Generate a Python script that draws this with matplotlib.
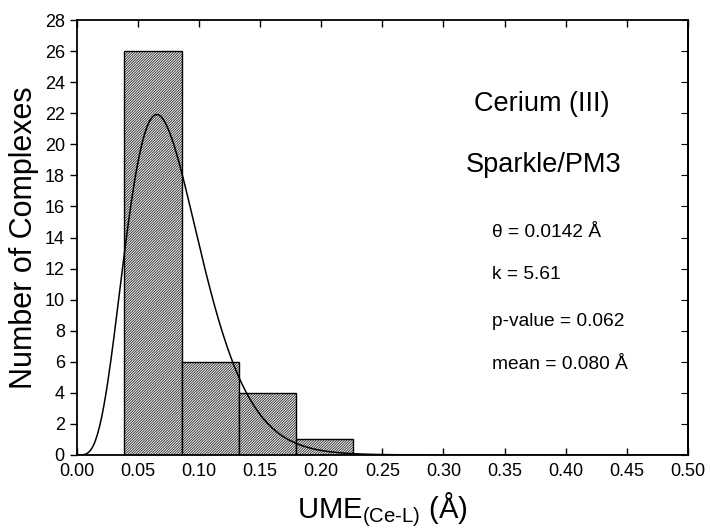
import math
import numpy as np
import matplotlib
matplotlib.use('Agg')
import matplotlib.pyplot as plt

plt.rcParams['font.family'] = ['Liberation Sans', 'DejaVu Sans']
plt.rcParams['mathtext.fontset'] = 'custom'
plt.rcParams['mathtext.rm'] = 'Liberation Sans'
plt.rcParams['mathtext.it'] = 'Liberation Sans'
plt.rcParams['mathtext.default'] = 'regular'
plt.rcParams['hatch.linewidth'] = 0.45
plt.rcParams['hatch.color'] = '#777777'

# histogram data
bin_edges = [0.039, 0.0858, 0.1326, 0.1794, 0.2262]
counts = [26, 6, 4, 1]

# fitted gamma distribution parameters shown on the chart
theta = 0.0142
k = 5.61
labels = ['\u03b8 = 0.0142 \u00c5', 'k = 5.61', 'p-value = 0.062', 'mean = 0.080 \u00c5']
xticks = [0.00, 0.05, 0.10, 0.15, 0.20, 0.25, 0.30, 0.35, 0.40, 0.45, 0.50]
yticks = list(range(0, 29, 2))

fig = plt.figure(figsize=(7.10, 5.29), dpi=100)
ax = fig.add_axes([0.108, 0.140, 0.861, 0.822])

widths = np.diff(bin_edges)
ax.bar(bin_edges[:-1], counts, width=widths, align='edge',
       facecolor='#e8e8e8', edgecolor='black', linewidth=1.0, hatch='/' * 13, zorder=2)

# gamma pdf scaled to counts
x = np.linspace(0.0005, 0.5, 600)
pdf = x ** (k - 1) * np.exp(-x / theta) / (math.gamma(k) * theta ** k)
scale = sum(counts) * widths.mean() * 0.985
ax.plot(x, pdf * scale, color='black', linewidth=1.1, zorder=3)

ax.set_xlim(0, 0.5)
ax.set_ylim(0, 28)
ax.set_xticks(xticks)
ax.set_xticklabels(['%.2f' % t for t in xticks])
ax.set_yticks(yticks)
ax.tick_params(axis='both', labelsize=13, width=1, length=5, colors='black')
ax.tick_params(axis='x', direction='in', top=True, pad=6)
ax.tick_params(axis='y', direction='out', right=False)
# right side inward ticks
ax2 = ax.secondary_yaxis('right')
ax2.set_yticks(yticks)
ax2.tick_params(direction='in', length=5, labelright=False)
ax2.spines['right'].set_linewidth(1.3)
for s in ax.spines.values():
    s.set_linewidth(1.3)

ax.set_ylabel('Number of Complexes', fontsize=22, labelpad=4)
ax.set_xlabel('UME$_{(Ce\u2010L)}$ (\u00c5)', fontsize=21, labelpad=7)

ax.text(0.380, 22.6, 'Cerium (III)', fontsize=19.5, ha='center', va='center')
ax.text(0.382, 18.7, 'Sparkle/PM3', fontsize=19.5, ha='center', va='center')
ys = [14.3, 11.6, 8.6, 5.8]
for lab, yy in zip(labels, ys):
    ax.text(0.3395, yy, lab, fontsize=13.8, ha='left', va='center')

fig.savefig('out.png', dpi=100)
